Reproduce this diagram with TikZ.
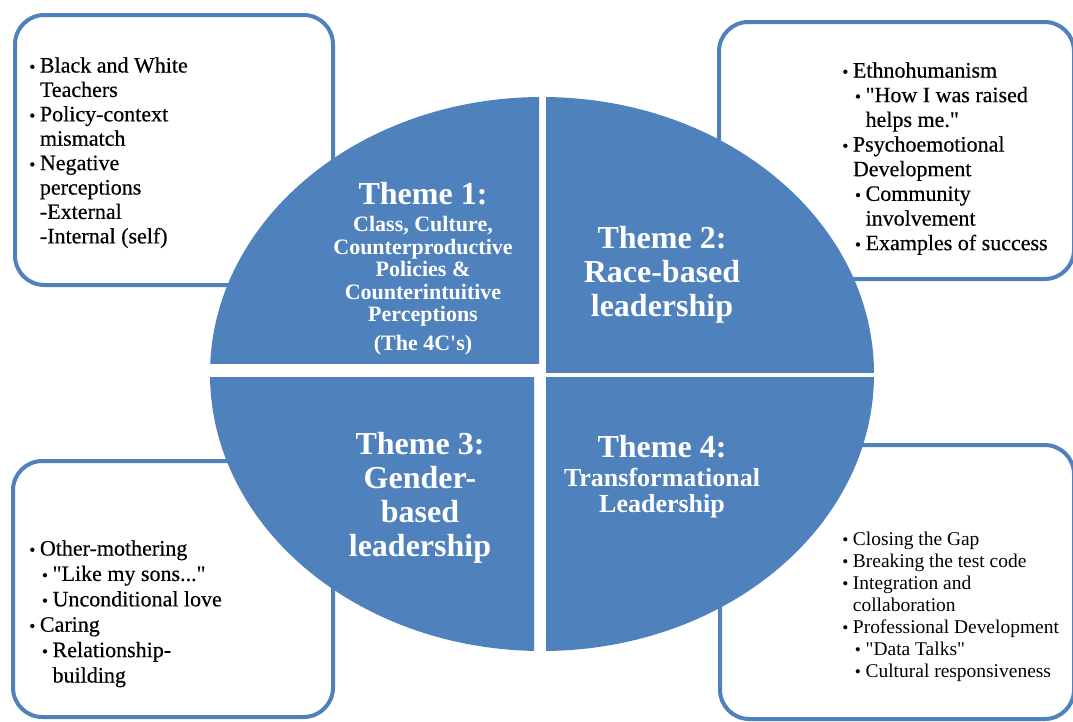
\documentclass[tikz,border=0pt]{standalone}
\usepackage{fontspec}
\setmainfont{Liberation Serif}
\newfontfamily\darkfont[FakeBold=0.4]{Liberation Serif}
\usetikzlibrary{positioning}

\definecolor{themeblue}{RGB}{79,129,189}
\newlength\bulw \setlength\bulw{8pt}
\newlength\subw \setlength\subw{9.5pt}
\newcommand\bul{\makebox[\bulw][l]{\fontsize{13pt}{13pt}\selectfont\textbullet}}
\newcommand\ita[1]{\bul#1}
\newcommand\itb[1]{\hspace*{\subw}\bul#1}
\newcommand\cta{\hspace*{\bulw}}
\newcommand\ctb{\hspace*{\subw}\hspace*{\bulw}}
\newcommand\ovalpart[1]{\begin{scope}\clip #1; \fill[themeblue] (542,374) ellipse [x radius=249pt, y radius=207.75pt];\end{scope}}

\begin{document}
\begin{tikzpicture}[x=0.75pt, y=-0.75pt,
  infobox/.style={draw=themeblue, line width=3pt, rounded corners=22pt, fill=white},
  listtext/.style={anchor=north west, inner sep=0pt, align=left, text=black},
  themebig/.style={anchor=north, inner sep=0pt, align=center, text=white, font=\fontsize{24pt}{25.5pt}\selectfont\bfseries},
  themesub/.style={inner sep=0pt, align=center, text=white, font=\fontsize{16.5pt}{16.9pt}\selectfont\bfseries}]
  \useasboundingbox (0,0) rectangle (1073,721);

  \draw[infobox] (15,15) rectangle (333,285);
  \draw[infobox] (719,22) rectangle (1074,279);
  \draw[infobox] (13,461) rectangle (333,717);
  \draw[infobox] (720,445) rectangle (1074,719);

  \ovalpart{(0,0) rectangle (539,363)}
  \ovalpart{(546,0) rectangle (1073,372)}
  \ovalpart{(0,377) rectangle (534,721)}
  \ovalpart{(546,377) rectangle (1073,721)}

  \node[themebig] (t1) at (423,182) {Theme 1:};
  \node[themesub, below=8.25pt of t1] (sub1) {Class, Culture,\\Counterproductive\\Policies \&\\Counterintuitive\\Perceptions};
  \node[themesub, below=6pt of sub1] (c1) {(The 4C\textquotesingle s)};
  \node[themebig] (t2) at (662,226) {Theme 2:\\Race-based\\leadership};
  \node[themebig] (t3) at (420,432) {Theme 3:\\Gender-\\based\\leadership};
  \node[themebig] (t4) at (662,435) {Theme 4:};
  \node[themesub, below=7.5pt of t4, font=\fontsize{19.5pt}{19.5pt}\selectfont\bfseries] (sub4) {Transformational\\Leadership};

  \node[listtext, font=\fontsize{16.5pt}{18.3pt}\darkfont] (l1) at (29,57)
    {\ita{Black and White}\\\cta Teachers\\\ita{Policy-context}\\\cta mismatch\\\ita{Negative}\\\cta perceptions\\\cta -External\\\cta -Internal (self)};
  \node[listtext, font=\fontsize{16.5pt}{18.5pt}\darkfont] (l2) at (842,62)
    {\ita{Ethnohumanism}\\\itb{\textquotedbl How I was raised}\\\ctb helps me.\textquotedbl\\\ita{Psychoemotional}\\\cta Development\\\itb{Community}\\\ctb involvement\\\itb{Examples of success}};
  \node[listtext, font=\fontsize{16.5pt}{19.05pt}\darkfont] (l3) at (29,540)
    {\ita{Other-mothering}\\\itb{\textquotedbl Like my sons...\textquotedbl}\\\itb{Unconditional love}\\\ita{Caring}\\\itb{Relationship-}\\\ctb building};
  \node[listtext, font=\fontsize{14.6pt}{16.5pt}\selectfont] (l4) at (842,532)
    {\ita{Closing the Gap}\\\ita{Breaking the test code}\\\ita{Integration and}\\\cta collaboration\\\ita{Professional Development}\\\itb{\textquotedbl Data Talks\textquotedbl}\\\itb{Cultural responsiveness}};
\end{tikzpicture}
\end{document}
